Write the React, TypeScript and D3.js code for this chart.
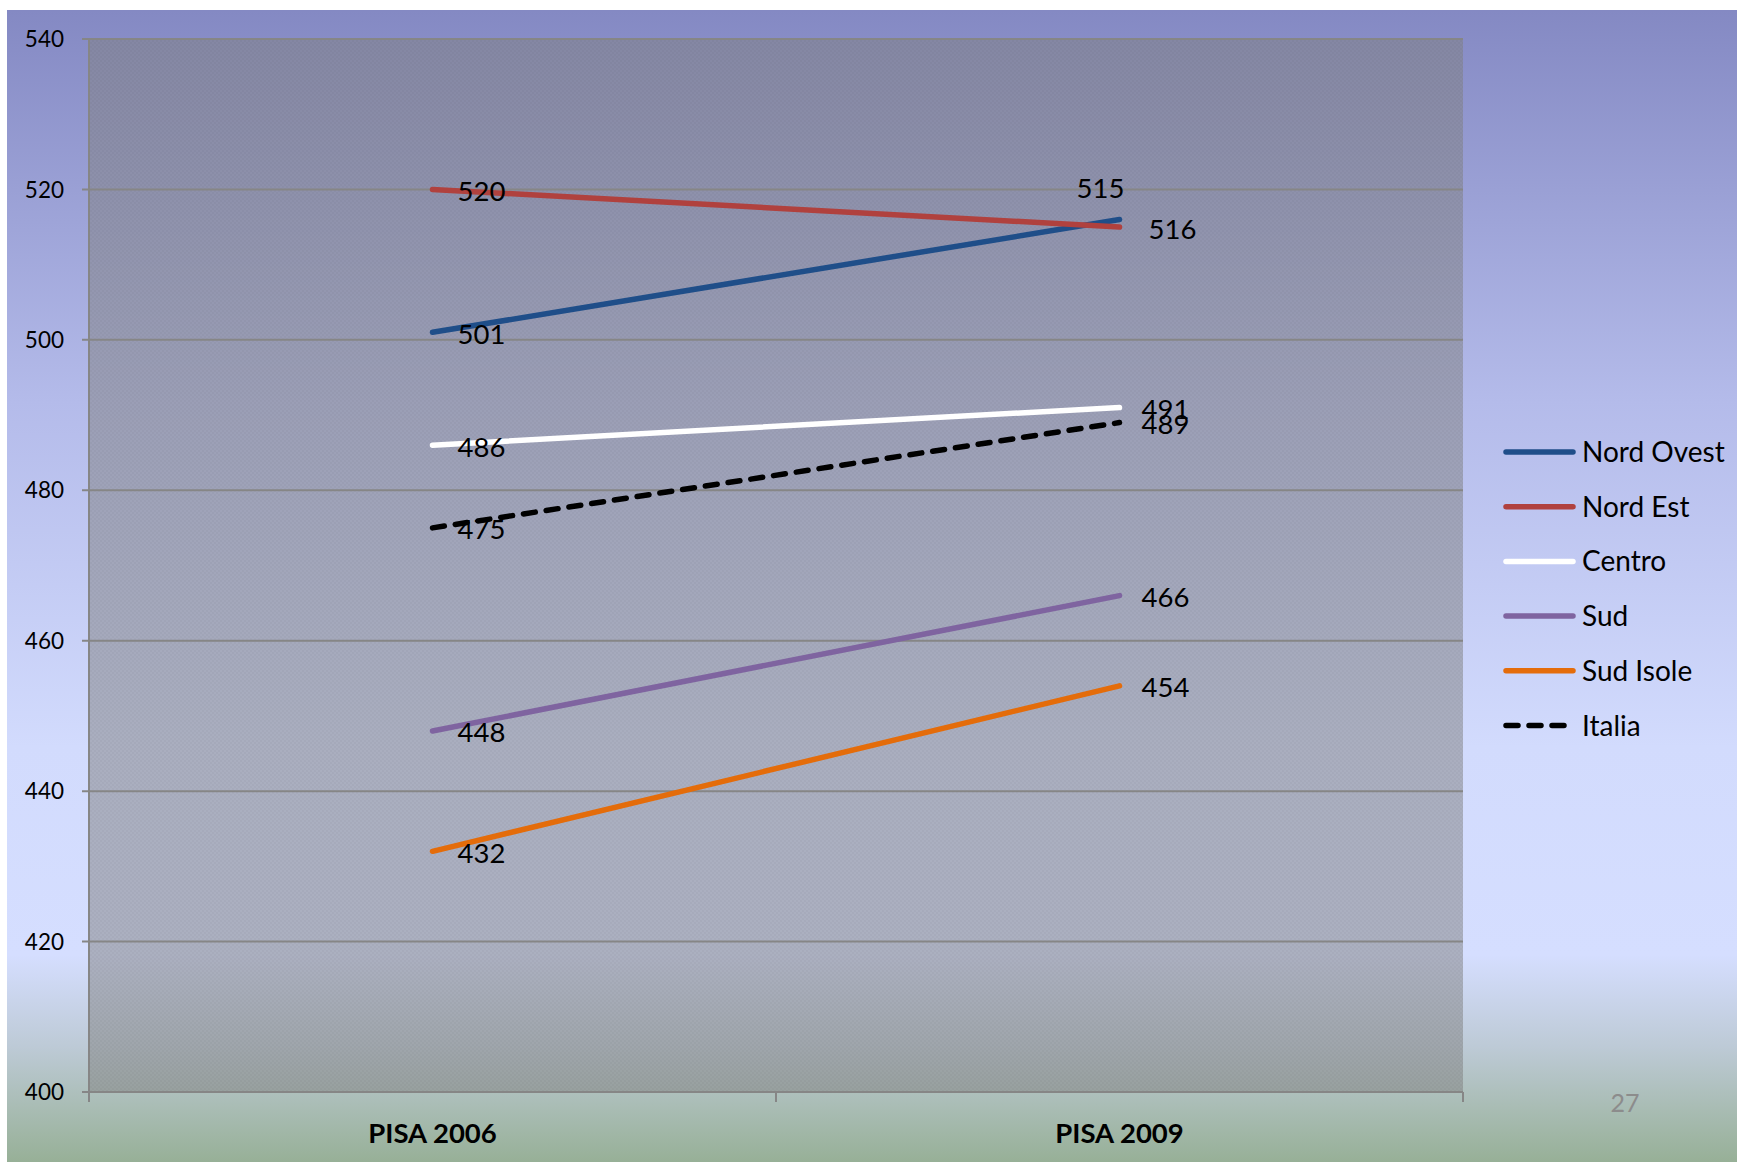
import React from "react";
import * as d3 from "d3";

const categories = ["PISA 2006", "PISA 2009"];
const seriesNames = ["Nord Ovest", "Nord Est", "Centro", "Sud", "Sud Isole", "Italia"];
const nordOvest = [501, 516];
const nordEst = [520, 515];
const centro = [486, 491];
const sud = [448, 466];
const sudIsole = [432, 454];
const italia = [475, 489];
const yTicks = [400, 420, 440, 460, 480, 500, 520, 540];
const pageNumber = "27";

const seriesValues = [nordOvest, nordEst, centro, sud, sudIsole, italia];
const colors = ["#1F4E89", "#B0413E", "#FFFFFF", "#7F64A0", "#E46C0A", "#000000"];
const dashed = [false, false, false, false, false, true];

const W = 1737;
const H = 1162;
const FONT = "Lato, 'Noto Sans', sans-serif";

export default function App() {
  const plot = { left: 89, right: 1463, top: 39, bottom: 1092 };
  const x = d3.scaleBand<string>().domain(categories).range([plot.left, plot.right]).padding(0);
  const y = d3.scaleLinear().domain([400, 540]).range([plot.bottom, plot.top]);
  const cx = (c: string) => (x(c) as number) + x.bandwidth() / 2;
  const line = d3
    .line<number>()
    .x((_, i) => cx(categories[i]))
    .y((d) => y(d));

  // label offsets (dx, dy, anchor) relative to point; default to the right
  const labelPos = (s: number, i: number) => {
    if (s === 1 && i === 1) return { dx: -19, dy: -39, anchor: "middle" };
    if (s === 0 && i === 1) return { dx: 29, dy: 10, anchor: "start" };
    if (s === 5 && i === 1) return { dx: 22, dy: 2, anchor: "start" };
    return { dx: i === 0 ? 25 : 22, dy: 1.5, anchor: "start" };
  };

  const xTickPositions = [plot.left, plot.left + x.bandwidth(), plot.right];
  const legendX1 = 1506;
  const legendX2 = 1573;
  const legendTop = 452;
  const legendStep = 54.7;

  return (
    <svg
      width={W}
      height={H}
      viewBox={`0 0 ${W} ${H}`}
      style={{ position: "absolute", left: 0, top: 0, display: "block" }}
      fontFamily={FONT}
    >
      <defs>
        <linearGradient id="bg" x1="0" y1="0" x2="0" y2="1">
          <stop offset="0" stopColor="#8489C3" />
          <stop offset="0.34" stopColor="#B4BBEA" />
          <stop offset="0.64" stopColor="#D2DBFD" />
          <stop offset="0.82" stopColor="#D5DEFF" />
          <stop offset="0.9" stopColor="#BDCAD6" />
          <stop offset="0.95" stopColor="#AABDB6" />
          <stop offset="1" stopColor="#97B097" />
        </linearGradient>
        <pattern id="chk" width="4" height="4" patternUnits="userSpaceOnUse">
          <rect width="4" height="4" fill="#828282" fillOpacity="0.5" />
          <rect width="2" height="2" fill="#000" fillOpacity="0.025" />
          <rect x="2" y="2" width="2" height="2" fill="#000" fillOpacity="0.025" />
        </pattern>
      </defs>
      <rect x={0} y={0} width={W} height={H} fill="#FFFFFF" />
      <rect x={7} y={10} width={W - 7} height={H - 10} fill="url(#bg)" />

      {/* plot area */}
      <rect
        x={plot.left}
        y={plot.top}
        width={plot.right - plot.left}
        height={plot.bottom - plot.top}
        fill="url(#chk)"
      />

      {/* gridlines and y ticks */}
      {yTicks.map((t) => (
        <g key={t}>
          <line x1={plot.left - 7} x2={plot.right} y1={y(t)} y2={y(t)} stroke="#868686" strokeWidth={2} />
          <text x={64} y={y(t)} dy="0.36em" textAnchor="end" fontSize={22.5} fill="#000">
            {t}
          </text>
        </g>
      ))}
      {/* axes */}
      <line x1={plot.left} x2={plot.left} y1={plot.top} y2={plot.bottom + 10} stroke="#868686" strokeWidth={2} />
      {xTickPositions.map((p, i) => (
        <line key={i} x1={p} x2={p} y1={plot.bottom} y2={plot.bottom + 10} stroke="#868686" strokeWidth={2} />
      ))}
      {categories.map((c) => (
        <text key={c} x={cx(c)} y={1143} textAnchor="middle" fontSize={27.5} fontWeight="bold" fill="#000">
          {c}
        </text>
      ))}

      {/* series lines */}
      {seriesValues.map((vals, s) => (
        <path
          key={seriesNames[s]}
          d={line(vals) || ""}
          fill="none"
          stroke={colors[s]}
          strokeWidth={5.5}
          strokeLinecap="round"
          strokeDasharray={dashed[s] ? "12,11" : undefined}
        />
      ))}

      {/* data labels */}
      {seriesValues.map((vals, s) =>
        vals.map((v, i) => {
          const p = labelPos(s, i);
          return (
            <text
              key={`${s}-${i}`}
              x={cx(categories[i]) + p.dx}
              y={y(v) + p.dy}
              dy="0.36em"
              textAnchor={p.anchor as any}
              fontSize={27.5}
              fill="#000"
            >
              {v}
            </text>
          );
        })
      )}

      {/* legend */}
      {seriesNames.map((n, s) => {
        const ly = legendTop + s * legendStep;
        return (
          <g key={n}>
            <line
              x1={legendX1}
              x2={legendX2}
              y1={ly}
              y2={ly}
              stroke={colors[s]}
              strokeWidth={5.5}
              strokeLinecap="round"
              strokeDasharray={dashed[s] ? "12,11" : undefined}
            />
            <text x={1582} y={ly} dy="0.36em" fontSize={28} fill="#000">
              {n}
            </text>
          </g>
        );
      })}

      <text x={1625} y={1112} textAnchor="middle" fontSize={25} fill="#8C8C8C">
        {pageNumber}
      </text>
    </svg>
  );
}
